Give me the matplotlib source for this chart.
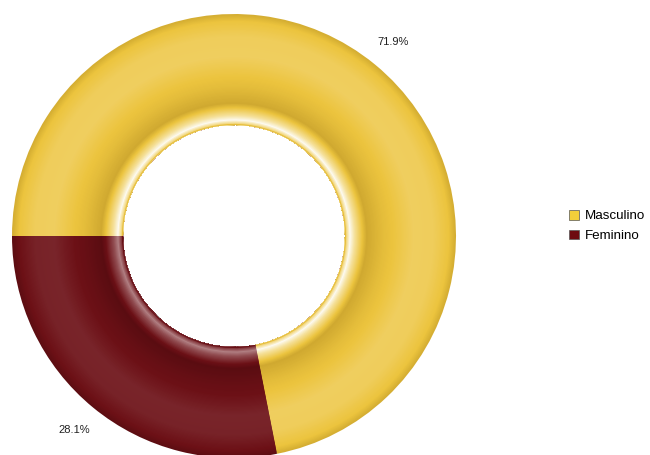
import numpy as np
import matplotlib.pyplot as plt
from matplotlib.colors import to_rgb

plt.rcParams['font.family'] = ['Liberation Sans', 'DejaVu Sans']

labels = ['Masculino', 'Feminino']
values = [71.9, 28.1]
colors = ['#ECC43E', '#6C1016']
dark_colors = ['#8E6A10', '#300406']
legend_colors = ['#F2CF3A', '#6E0A10']

# radial lighting profile: t=0 inner edge, t=1 outer edge
prof_t = [0.0, 0.015, 0.05, 0.09, 0.2, 0.35, 0.62, 0.8, 0.94, 1.0]
prof_l = [-0.7, 0.25, 0.92, 0.5, -0.3, -0.08, 0.17, 0.15, 0.0, -0.25]


def shade(c, dark, l, soft=1.0):
    c = np.array(to_rgb(c))
    if l >= 0:
        return tuple(c + (1 - c) * l * soft)
    d = np.array(to_rgb(dark))
    return tuple(c + (d - c) * (-l))


fig = plt.figure(figsize=(6.5, 4.55), dpi=100)
cx, cy, R = 234, 455 - 236, 222
ax = fig.add_axes([(cx - R) / 650, (cy - R) / 455, 2 * R / 650, 2 * R / 455])

r_in = 0.5
n = 100
radii = np.linspace(1.0, r_in, n, endpoint=False)
for r in radii:
    t = (r - r_in) / (1 - r_in)
    l = np.interp(t, prof_t, prof_l)
    cols = [shade(colors[0], dark_colors[0], l),
            shade(colors[1], dark_colors[1], l, soft=0.5)]
    ax.pie(values, radius=r, startangle=180, counterclock=False, colors=cols,
           wedgeprops=dict(width=r - r_in, linewidth=0))

# percentage labels
ax.pie(values, radius=1.0, startangle=180, counterclock=False,
       colors=['none', 'none'], autopct='%.1f%%', pctdistance=1.13,
       wedgeprops=dict(width=1 - r_in, linewidth=0),
       textprops=dict(fontsize=8, color='#222222'))

ax.set_xlim(-1, 1)
ax.set_ylim(-1, 1)
ax.set_aspect('equal')
ax.axis('off')

handles = [plt.Rectangle((0, 0), 1, 1, facecolor=c, edgecolor='#555555', linewidth=0.5)
           for c in legend_colors]
fig.legend(handles, labels, loc='center left', bbox_to_anchor=(557 / 650, 1 - 226 / 455),
           frameon=False, fontsize=9.6, handlelength=0.75, handleheight=0.75,
           handletextpad=0.45, labelspacing=0.55)

fig.savefig('out.png', dpi=100)
